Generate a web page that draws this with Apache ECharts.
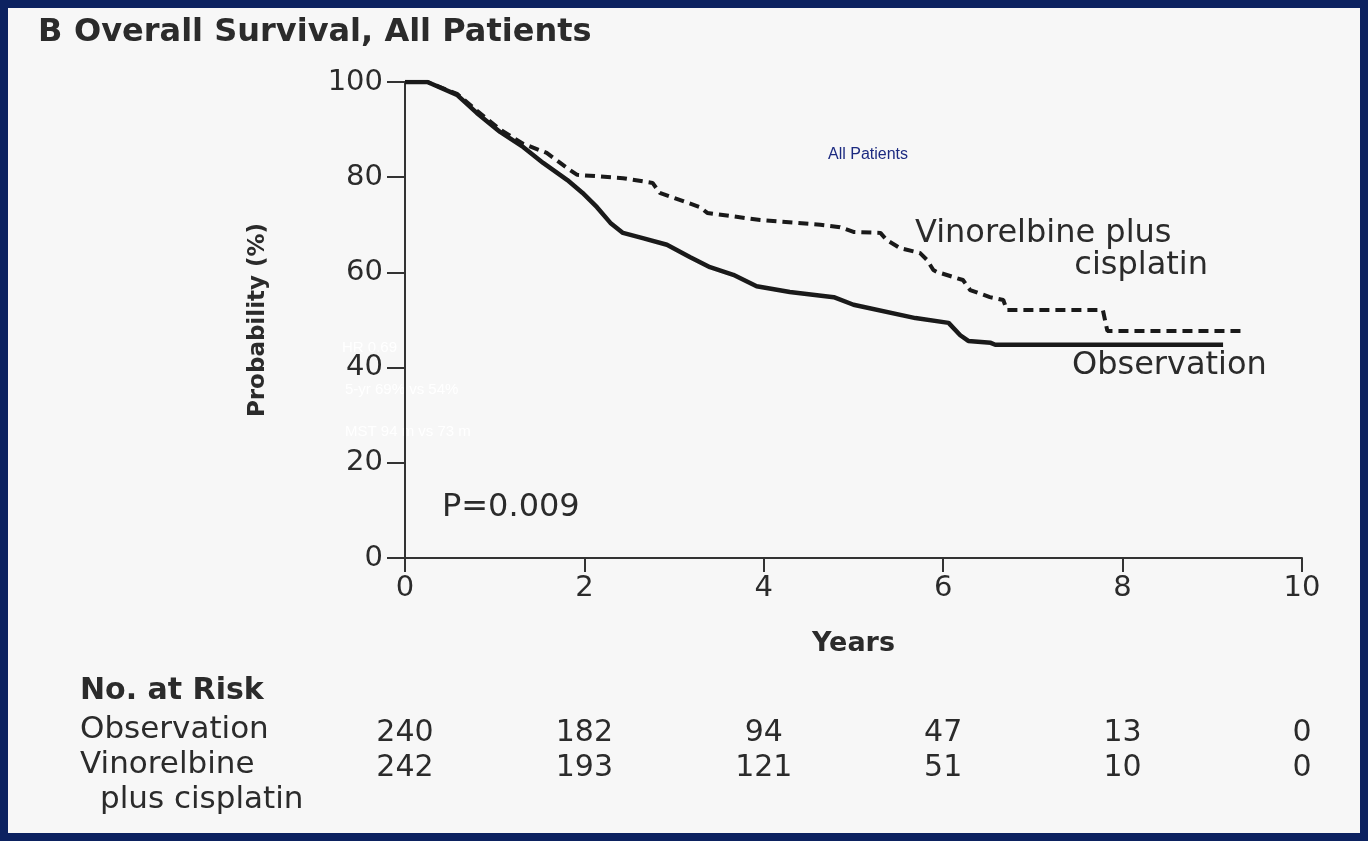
<!DOCTYPE html>
<html>
<head>
<meta charset="utf-8">
<script src="https://cdn.jsdelivr.net/npm/echarts@6/dist/echarts.min.js"></script>
<style>
html,body{margin:0;padding:0;background:#0c2260;}
#c{width:1368px;height:841px;}
</style>
</head>
<body>
<div id="c"></div>
<script>
// Kaplan-Meier overall survival, [years, probability %]
const observation = [
  [0,100],[0.25,100],[0.58,97.3],[0.80,93.5],[1.06,89.5],[1.32,86.3],[1.54,83.0],
  [1.81,79.4],[1.98,76.7],[2.14,73.7],[2.29,70.4],[2.43,68.3],[2.65,67.2],[2.92,65.8],
  [3.18,63.2],[3.40,61.1],[3.66,59.5],[3.92,57.1],[4.29,55.9],[4.78,54.8],[5.0,53.2],
  [5.69,50.4],[6.06,49.4],[6.19,46.8],[6.28,45.6],[6.53,45.2],[6.58,44.8],[9.12,44.8]
];
const vinorelbine = [
  [0,100],[0.25,100],[0.58,97.5],[0.80,94],[1.06,90],[1.32,87],[1.58,85.1],
  [1.84,81.5],[1.92,80.5],[2.43,79.8],[2.76,78.8],[2.84,76.7],[3.29,73.7],[3.37,72.5],
  [3.96,71.0],[4.63,70.0],[4.85,69.5],[5.0,68.5],[5.3,68.3],[5.37,66.8],[5.52,65.1],
  [5.74,64.1],[5.82,62.6],[5.89,60.5],[5.93,60.1],[6.22,58.4],[6.30,56.3],[6.52,54.8],
  [6.67,54.2],[6.71,52.1],[7.78,52.1],[7.83,47.7],[9.33,47.7]
];
const xTicks = [0,2,4,6,8,10];
const yTicks = [0,20,40,60,80,100];
const riskYears = [0,2,4,6,8,10];
const riskObservation = [240,182,94,47,13,0];
const riskVinorelbine = [242,193,121,51,10,0];
const overlayLines = ['HR 0.69','5-yr 69% vs 54%','MST 94 m vs 73 m'];

const TXT = '#2b2b2b';
const chart = echarts.init(document.getElementById('c'), null, {renderer:'canvas'});

const riskData = [];
riskYears.forEach((y,i)=>{
  riskData.push([y,0,riskObservation[i]]);
  riskData.push([y,1,riskVinorelbine[i]]);
});

chart.setOption({
  backgroundColor:'#0c2260',
  animation:false,
  grid:[
    {left:405,right:66,top:82,bottom:283},
    {left:405,right:66,top:733,height:35}
  ],
  xAxis:[
    {type:'value',gridIndex:0,min:0,max:10,interval:2,
     axisLine:{lineStyle:{color:'#333',width:2}},
     axisTick:{length:14,lineStyle:{color:'#333',width:2}},
     axisLabel:{color:TXT,fontFamily:'DejaVu Sans',fontSize:29,margin:16},
     splitLine:{show:false},
     name:'Years',nameLocation:'middle',nameGap:72,
     nameTextStyle:{color:TXT,fontFamily:'DejaVu Sans',fontSize:27,fontWeight:'bold'}},
    {type:'value',gridIndex:1,min:0,max:10,show:false}
  ],
  yAxis:[
    {type:'value',gridIndex:0,min:0,max:100,interval:20,
     axisLine:{show:true,lineStyle:{color:'#333',width:2}},
     axisTick:{show:true,length:18,lineStyle:{color:'#333',width:2}},
     axisLabel:{color:TXT,fontFamily:'DejaVu Sans',fontSize:29,margin:22},
     splitLine:{show:false},
     name:'Probability (%)',nameLocation:'middle',nameGap:135,nameRotate:90,
     nameTextStyle:{color:TXT,fontFamily:'DejaVu Sans',fontSize:23,fontWeight:'bold'}},
    {type:'value',gridIndex:1,min:0,max:1,inverse:true,show:false}
  ],
  graphic:[
    {type:'rect',shape:{x:8,y:8,width:1352,height:825},style:{fill:'#f7f7f7'},z:-10,silent:true},
    {type:'text',left:38,top:17,style:{text:'B',font:'bold 32px "DejaVu Sans"',fill:'#2b2b2b'}},
    {type:'text',left:74,top:17,style:{text:'Overall Survival, All Patients',font:'bold 32px "DejaVu Sans"',fill:'#2b2b2b'}},
    {type:'text',left:828,top:147,style:{text:'All Patients',font:'16px "Liberation Sans"',fill:'#1c2a80'}},
    {type:'text',left:915,top:218,style:{text:'Vinorelbine plus',font:'32px "DejaVu Sans"',fill:'#2b2b2b'}},
    {type:'text',right:160,top:250,style:{text:'cisplatin',font:'32px "DejaVu Sans"',fill:'#2b2b2b'}},
    {type:'text',left:1072,top:350,style:{text:'Observation',font:'32px "DejaVu Sans"',fill:'#2b2b2b'}},
    {type:'text',left:442,top:492,style:{text:'P=0.009',font:'32px "DejaVu Sans"',fill:'#2b2b2b'}},
    {type:'text',left:342,top:340,style:{text:overlayLines[0],font:'15px "Liberation Sans"',fill:'#ffffff'}},
    {type:'text',left:345,top:382,style:{text:overlayLines[1],font:'15px "Liberation Sans"',fill:'#ffffff'}},
    {type:'text',left:345,top:424,style:{text:overlayLines[2],font:'15px "Liberation Sans"',fill:'#ffffff'}},
    {type:'text',left:80,top:676,style:{text:'No. at Risk',font:'bold 30px "DejaVu Sans"',fill:'#2b2b2b'}},
    {type:'text',left:80,top:714,style:{text:'Observation',font:'31px "DejaVu Sans"',fill:'#2b2b2b'}},
    {type:'text',left:80,top:749,style:{text:'Vinorelbine',font:'31px "DejaVu Sans"',fill:'#2b2b2b'}},
    {type:'text',left:100,top:784,style:{text:'plus cisplatin',font:'31px "DejaVu Sans"',fill:'#2b2b2b'}}
  ],
  series:[
    {type:'line',name:'Observation',xAxisIndex:0,yAxisIndex:0,data:observation,
     showSymbol:false,lineStyle:{color:'#1a1a1a',width:4.5},z:3},
    {type:'line',name:'Vinorelbine plus cisplatin',xAxisIndex:0,yAxisIndex:0,data:vinorelbine,
     showSymbol:false,lineStyle:{color:'#1a1a1a',width:4,type:[10,6]},z:4},
    {type:'scatter',xAxisIndex:1,yAxisIndex:1,data:riskData,symbolSize:0,
     itemStyle:{opacity:1},
     label:{show:true,position:'inside',formatter:p=>String(p.value[2]),opacity:1,
            color:'#2b2b2b',fontFamily:'DejaVu Sans',fontSize:30}}
  ]
});
</script>
</body>
</html>
